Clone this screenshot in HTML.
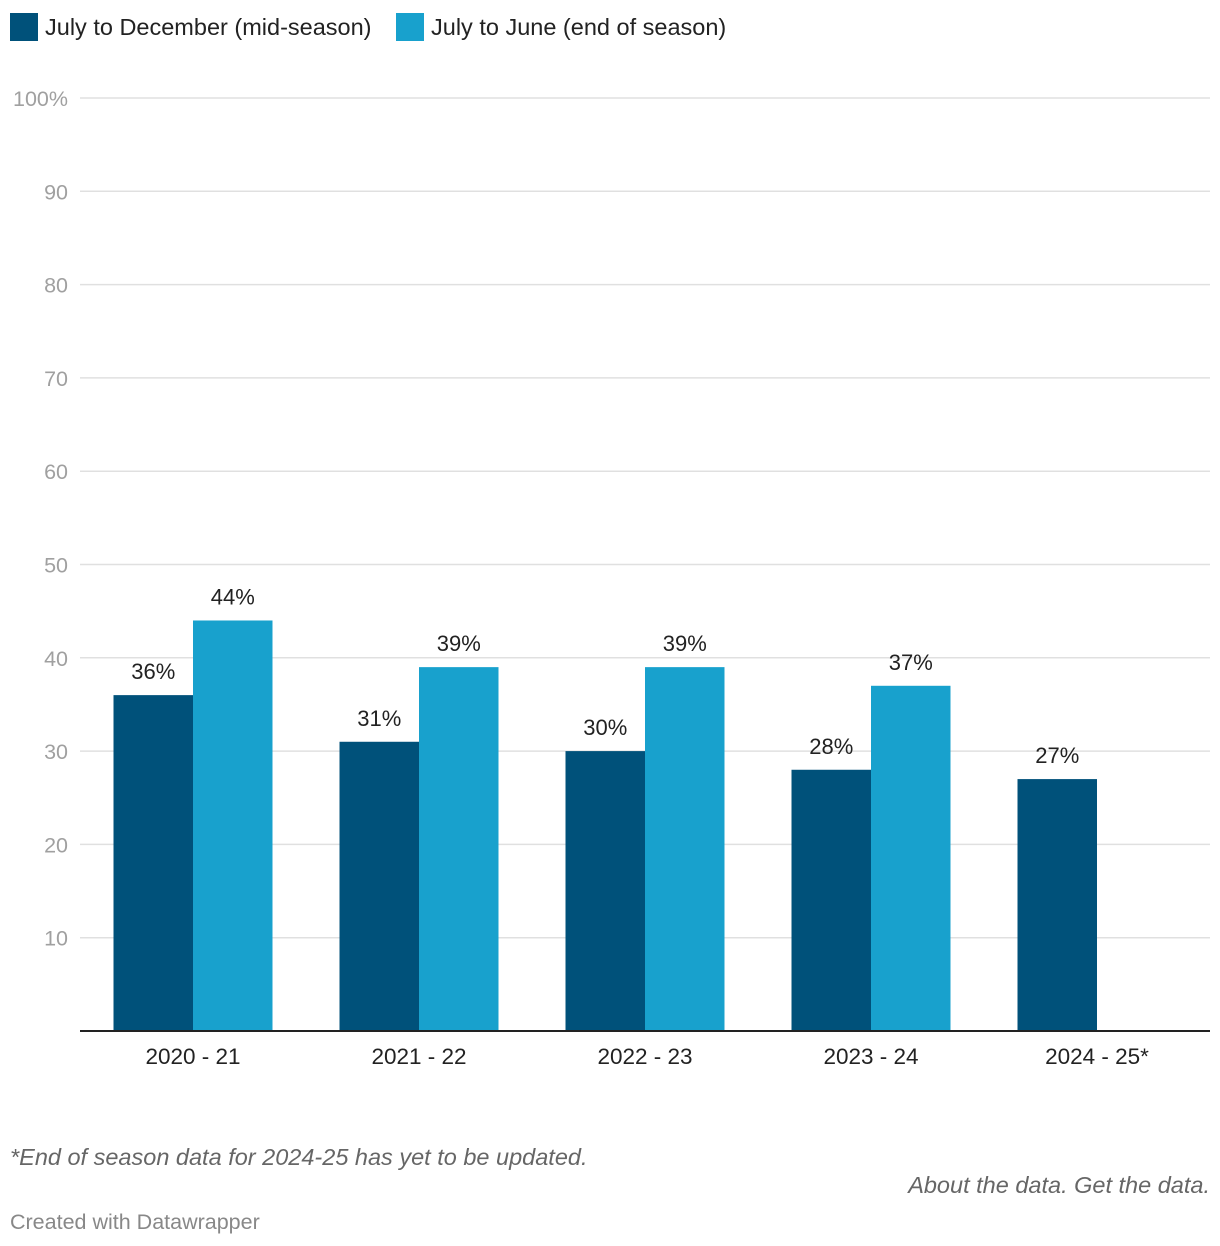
<!DOCTYPE html>
<html><head><meta charset="utf-8"><style>
body{margin:0;background:#fff;font-family:"Liberation Sans",sans-serif;}
#wrap{position:relative;width:1220px;height:1246px;}
.leg{position:absolute;top:13px;font-size:23.5px;color:#222;display:flex;align-items:center;}
.sw{width:28px;height:28px;margin-right:7px;display:inline-block}
.foot{position:absolute;font-style:italic;color:#666;font-size:23.5px}
</style></head><body>
<div id="wrap">
<div class="leg" style="left:10px"><span class="sw" style="background:#00517a"></span>July to December (mid-season)</div>
<div class="leg" style="left:396px"><span class="sw" style="background:#18a1cd"></span>July to June (end of season)</div>
<svg id="svg" width="1220" height="1100" style="position:absolute;left:0;top:0"></svg>
<div class="foot" style="left:10px;top:1144px">*End of season data for 2024-25 has yet to be updated.</div>
<div class="foot" style="right:10px;top:1172px">About the data. Get the data.</div>
<div style="position:absolute;left:10px;top:1210px;font-size:21.5px;color:#888">Created with Datawrapper</div>
</div>
<script>
const categories=["2020 - 21","2021 - 22","2022 - 23","2023 - 24","2024 - 25*"];
const midSeason=[36,31,30,28,27];
const endSeason=[44,39,39,37,null];
const yTicks=[10,20,30,40,50,60,70,80,90,100];
const NS="http://www.w3.org/2000/svg";
const svg=document.getElementById('svg');
const x0=80,x1=1210,y0=1031,y100=98;
const y=v=>y0-(v/100)*(y0-y100);
const band=(x1-x0)/categories.length;
const cx=i=>x0+band*(i+0.5);
const bw=79.5;
function el(t,a,txt){const e=document.createElementNS(NS,t);for(const k in a)e.setAttribute(k,a[k]);if(txt!=null)e.textContent=txt;svg.appendChild(e);return e;}
yTicks.forEach(t=>{
 const g=el('line',{x1:x0,x2:x1,y1:y(t),y2:y(t),stroke:'#e0e0e0','stroke-width':1.5});
 
 
 const l=el('text',{x:68,y:y(t)+8,'text-anchor':'end','font-size':21.5,fill:'#a0a0a0'},t===100?'100%':t);
 
 
});
function bar(v,x,col){
 const r=el('rect',{x:x,y:y(v),width:bw,height:y0-y(v),fill:col});
 
 
 const t=el('text',{x:x+bw/2,y:y(v)-16,'text-anchor':'middle','font-size':22,fill:'#222'},v+'%');
 
 
}
categories.forEach((c,i)=>{
 bar(midSeason[i],cx(i)-bw,'#00517a');
 if(endSeason[i]!=null)bar(endSeason[i],cx(i),'#18a1cd');
 const t=el('text',{x:cx(i),y:1064,'text-anchor':'middle','font-size':22.5,fill:'#222'},c);
 
 
});
const ax=el('line',{x1:x0,x2:x1,y1:y0,y2:y0,stroke:'#222','stroke-width':2});


</script>
</body></html>
